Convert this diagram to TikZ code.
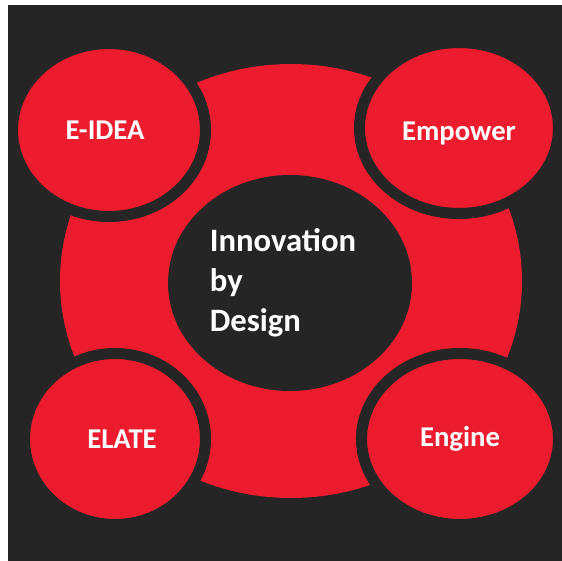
\documentclass[tikz,border=0pt]{standalone}
\usepackage{fontspec}
\setmainfont{Carlito}
\usetikzlibrary{shapes.geometric}
\definecolor{bgdark}{RGB}{37,37,37}
\definecolor{ringred}{RGB}{236,27,45}

\begin{document}
\begin{tikzpicture}[x=0.75pt,y=-0.75pt,
bignode/.style={ellipse, fill=ringred, inner sep=0pt},
hubnode/.style={ellipse, fill=bgdark, inner sep=0pt, text=white, align=left, font=\fontsize{24.5}{30}\selectfont\bfseries},
petalnode/.style={ellipse, fill=ringred, draw=bgdark, line width=8.25pt, inner sep=0pt, text=white, font=\fontsize{21.5}{26}\selectfont\bfseries}
]

    \useasboundingbox (0,0) rectangle (562,561);
    \fill[bgdark] (8,5) rectangle (562,561);

    \begin{scope}
    \clip (8,5) rectangle (562,561);

    \node [bignode, minimum width=462*0.75pt, minimum height=434*0.75pt] (ring) at (291,281) {};
    \node [hubnode, minimum width=244*0.75pt, minimum height=216*0.75pt] (hub) at (290,283) {Innovation\hspace*{10.5pt}\\by\\Design};

    \node [petalnode, minimum width=193*0.75pt, minimum height=173*0.75pt] (eidea) at (109,130) {E-IDEA\hspace*{6pt}};
    \node [petalnode, minimum width=199*0.75pt, minimum height=171*0.75pt, text height=22pt] (empower) at (459,128) {Empower};
    \node [petalnode, minimum width=181*0.75pt, minimum height=171*0.75pt] (elate) at (115,439) {\hspace*{10.5pt}ELATE};
    \node [petalnode, minimum width=197*0.75pt, minimum height=171*0.75pt] (engine) at (460,439) {Engine};
    \end{scope}

\end{tikzpicture}
\end{document}
